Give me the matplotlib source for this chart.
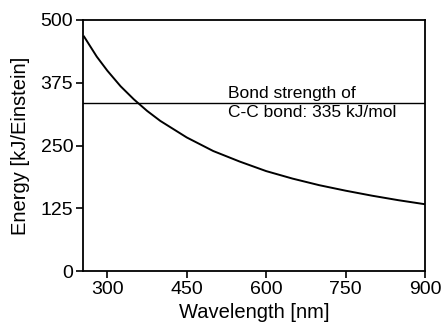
import matplotlib
matplotlib.use("Agg")
import matplotlib.pyplot as plt

wavelength = [256, 280, 300, 325, 350, 375, 400, 450, 500, 550, 600, 650, 700, 750, 800, 850, 900]
energy = [467, 427, 399, 368, 342, 319, 299, 266, 239, 218, 199, 184, 171, 160, 150, 141, 133]
bond_strength = 335
xticks = [300, 450, 600, 750, 900]
yticks = [0, 125, 250, 375, 500]

plt.rcParams['font.family'] = ['Liberation Sans', 'DejaVu Sans']
fig = plt.figure(figsize=(4.43, 3.24), dpi=100)
ax = fig.add_axes([83/443, 1-271/324, (425-83)/443, (271-20)/324])
ax.plot(wavelength, energy, color='black', lw=1.4)
ax.axhline(bond_strength, color='black', lw=1.0)
ax.text(528, bond_strength + 3, 'Bond strength of', fontsize=12.5, va='bottom', ha='left')
ax.text(528, bond_strength - 5, 'C-C bond: 335 kJ/mol', fontsize=12.5, va='top', ha='left')
ax.set_xlim(254, 900)
ax.set_ylim(0, 500)
ax.set_xticks(xticks)
ax.set_yticks(yticks)
ax.tick_params(labelsize=14, length=5, width=1.2, direction='out', pad=2)
for s in ax.spines.values():
    s.set_linewidth(1.3)
ax.set_xlabel('Wavelength [nm]', fontsize=14.5, labelpad=4)
ax.set_ylabel('Energy [kJ/Einstein]', fontsize=14.5, labelpad=8)
fig.savefig('out.png', dpi=100)
